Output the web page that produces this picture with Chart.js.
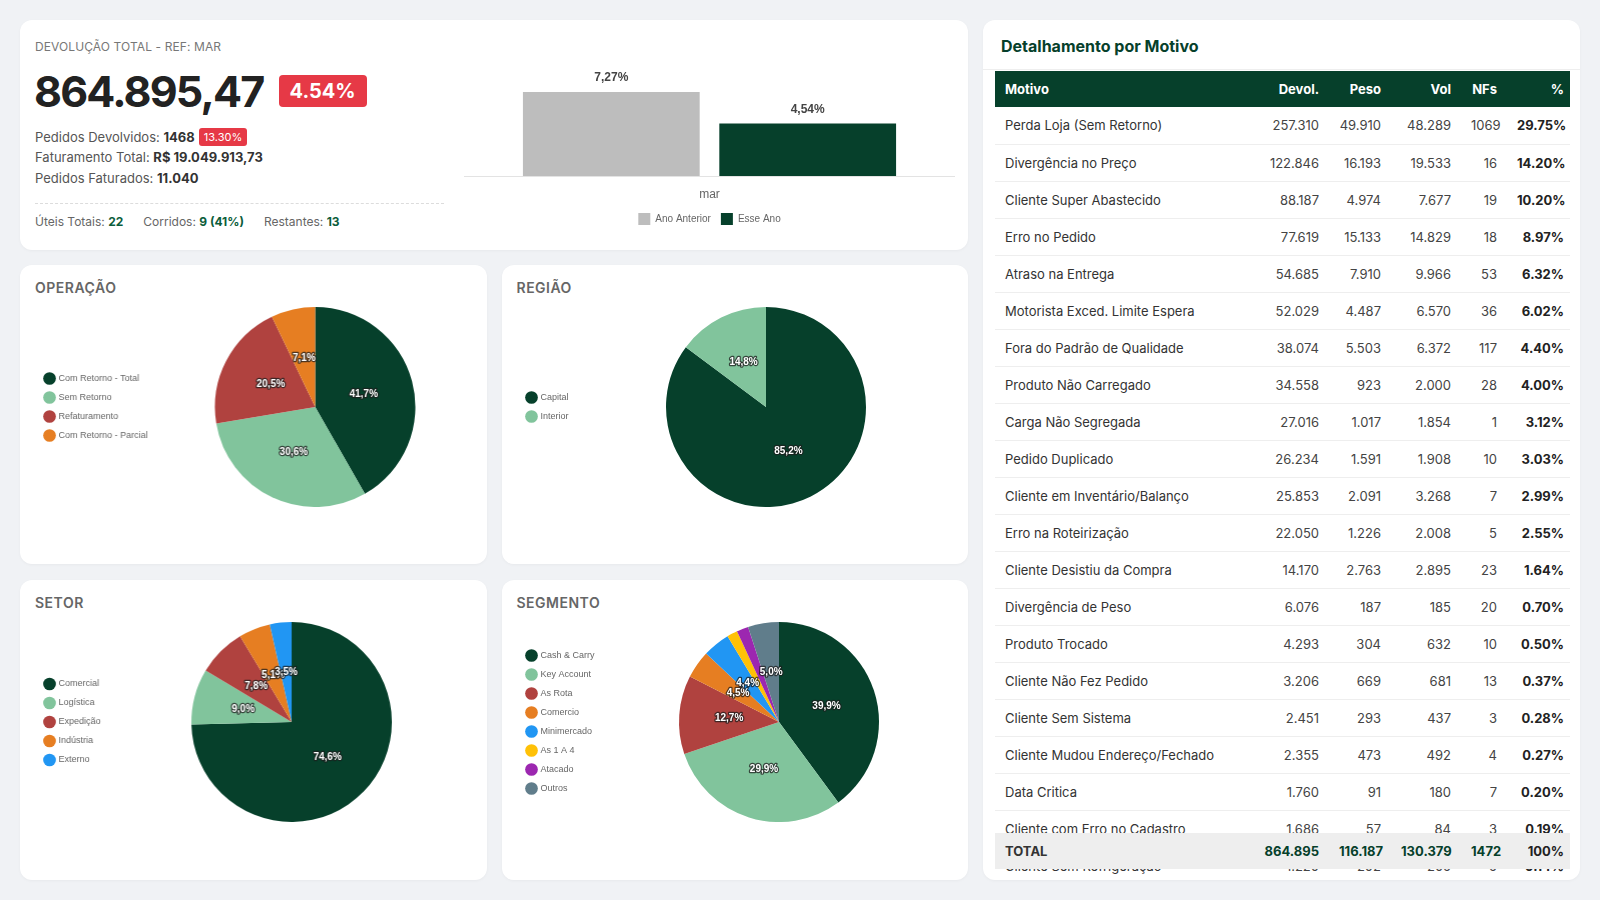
<!DOCTYPE html>
<html lang="pt-BR">
<head>
<meta charset="utf-8">
<title>Devolução - Dashboard</title>
<script src="https://cdn.jsdelivr.net/npm/chart.js@4.4.1/dist/chart.umd.min.js"></script>
<style>
  * { box-sizing: border-box; margin: 0; padding: 0; }
  html, body { width: 1600px; height: 900px; overflow: hidden; background: #f0f2f5; font-family: Inter, 'Noto Sans', sans-serif; }
  .card { position: absolute; background: #fff; border-radius: 12px; box-shadow: 0 1px 3px rgba(0,0,0,0.04); overflow: hidden; }

  #kpi { left: 20px; top: 20px; width: 948px; height: 230px; }
  .kpi-title { position: absolute; left: 15px; top: 20px; font-size: 12px; line-height: 14px; color: #777; letter-spacing: 0.1px; }
  .kpi-big { position: absolute; left: 14px; top: 46px; height: 50px; display: flex; align-items: center; }
  .kpi-big .num { font-size: 43px; font-weight: 700; color: #222; letter-spacing: -1.8px; }
  .kpi-big .badge { margin-left: 15px; background: #e63946; color: #fff; font-size: 20px; font-weight: 700; height: 32px; line-height: 32px; padding: 0 11px; border-radius: 4px; }
  .kpi-lines { position: absolute; left: 15px; top: 106.5px; font-size: 13px; line-height: 20.5px; color: #555; }
  .kpi-lines b { color: #333; font-weight: 700; }
  .kpi-lines .mini { display: inline-block; background: #e63946; color: #fff; font-size: 11px; line-height: 18px; height: 18px; padding: 0 5px; border-radius: 3px; margin-left: 4px; vertical-align: 1px; }
  .kpi-sep { position: absolute; left: 15px; top: 183px; width: 409px; border-top: 1px dashed #dcdcdc; }
  .kpi-foot { position: absolute; left: 15px; top: 194px; font-size: 12px; line-height: 16px; color: #666; }
  .kpi-foot span { margin-right: 20px; }
  .kpi-foot b { color: #0b5d3b; font-weight: 700; }
  #barBox { position: absolute; left: 444px; top: 40px; width: 491px; height: 175px; }

  .pie-title { position: absolute; left: 15px; top: 14px; font-size: 14px; line-height: 18px; font-weight: 600; color: #666; letter-spacing: 0.5px; }
  .pie-box { position: absolute; left: 15px; top: 42px; right: 15px; height: 200px; }
  #opCard { left: 20px; top: 265px; width: 466.5px; height: 299px; }
  #regCard { left: 501.5px; top: 265px; width: 466.5px; height: 299px; }
  #setCard { left: 20px; top: 580px; width: 466.5px; height: 300px; }
  #segCard { left: 501.5px; top: 580px; width: 466.5px; height: 300px; }

  #tblCard { left: 983px; top: 20px; width: 597px; height: 860px; }
  .tbl-title { position: absolute; left: 0; top: 0; width: 100%; height: 50px; border-bottom: 1px solid #eee; padding: 16px 18px 0; font-size: 16px; line-height: 20px; font-weight: 700; color: #06402b; }
  .tbl-wrap { position: absolute; left: 12px; top: 51px; width: 575px; height: 805px; overflow: hidden; }
  table { width: 575px; border-collapse: collapse; table-layout: fixed; }
  th, td { padding: 0 10px; white-space: nowrap; text-align: right; }
  th:first-child, td:first-child { text-align: left; }
  th:last-child, td:last-child { padding-right: 6px; }
  thead th { background: #06402b; color: #fff; font-size: 13px; font-weight: 700; height: 36px; }
  tbody td { height: 37px; border-bottom: 1px solid #eee; font-size: 13px; color: #444; }
  tbody td:first-child { color: #333; }
  tbody td:last-child { font-weight: 700; color: #222; }
  .tbl-total { position: absolute; left: 12px; top: 813px; width: 575px; background: #eeeeee; }
  .tbl-total td { height: 36px; border: none; font-size: 13px; font-weight: 700; color: #06402b; }
</style>
</head>
<body>

<div class="card" id="kpi">
  <div class="kpi-title">DEVOLUÇÃO TOTAL - REF: MAR</div>
  <div class="kpi-big"><span class="num">864.895,47</span><span class="badge">4.54%</span></div>
  <div class="kpi-lines">
    <div>Pedidos Devolvidos: <b>1468</b><span class="mini">13.30%</span></div>
    <div>Faturamento Total: <b>R$ 19.049.913,73</b></div>
    <div>Pedidos Faturados: <b>11.040</b></div>
  </div>
  <div class="kpi-sep"></div>
  <div class="kpi-foot"><span>Úteis Totais: <b>22</b></span><span>Corridos: <b>9 (41%)</b></span><span>Restantes: <b>13</b></span></div>
  <div id="barBox"><canvas id="barChart"></canvas></div>
</div>

<div class="card" id="opCard"><div class="pie-title">OPERAÇÃO</div><div class="pie-box"><canvas id="opChart"></canvas></div></div>
<div class="card" id="regCard"><div class="pie-title">REGIÃO</div><div class="pie-box"><canvas id="regChart"></canvas></div></div>
<div class="card" id="setCard"><div class="pie-title">SETOR</div><div class="pie-box"><canvas id="setChart"></canvas></div></div>
<div class="card" id="segCard"><div class="pie-title">SEGMENTO</div><div class="pie-box"><canvas id="segChart"></canvas></div></div>

<div class="card" id="tblCard">
  <div class="tbl-title">Detalhamento por Motivo</div>
  <div class="tbl-wrap"><table id="motivoTable"></table></div>
  <table class="tbl-total" id="totalTable"></table>
</div>

<script>
// --- bar: devolução % ano anterior x esse ano
const barLabels = ['mar'];
const anoAnterior = [7.27];
const esseAno = [4.54];

// --- pies (% share)
const operacaoLabels = ['Com Retorno - Total', 'Sem Retorno', 'Refaturamento', 'Com Retorno - Parcial'];
const operacaoValues = [41.7, 30.6, 20.5, 7.1];

const regiaoLabels = ['Capital', 'Interior'];
const regiaoValues = [85.2, 14.8];

const setorLabels = ['Comercial', 'Logística', 'Expedição', 'Indústria', 'Externo'];
const setorValues = [74.6, 9.0, 7.8, 5.1, 3.5];

const segmentoLabels = ['Cash & Carry', 'Key Account', 'As Rota', 'Comercio', 'Minimercado', 'As 1 A 4', 'Atacado', 'Outros'];
const segmentoValues = [39.9, 29.9, 12.7, 4.5, 4.4, 1.7, 1.9, 5.0];

// --- table
const tableHeaders = ['Motivo', 'Devol.', 'Peso', 'Vol', 'NFs', '%'];
const motivos = [
  'Perda Loja (Sem Retorno)', 'Divergência no Preço', 'Cliente Super Abastecido', 'Erro no Pedido',
  'Atraso na Entrega', 'Motorista Exced. Limite Espera', 'Fora do Padrão de Qualidade', 'Produto Não Carregado',
  'Carga Não Segregada', 'Pedido Duplicado', 'Cliente em Inventário/Balanço', 'Erro na Roteirização',
  'Cliente Desistiu da Compra', 'Divergência de Peso', 'Produto Trocado', 'Cliente Não Fez Pedido',
  'Cliente Sem Sistema', 'Cliente Mudou Endereço/Fechado', 'Data Critica', 'Cliente com Erro no Cadastro',
  'Cliente Sem Refrigeração'
];
const devol = [257310, 122846, 88187, 77619, 54685, 52029, 38074, 34558, 27016, 26234, 25853, 22050, 14170, 6076, 4293, 3206, 2451, 2355, 1760, 1686, 1220];
const peso  = [49910, 16193, 4974, 15133, 7910, 4487, 5503, 923, 1017, 1591, 2091, 1226, 2763, 187, 304, 669, 293, 473, 91, 57, 202];
const vol   = [48289, 19533, 7677, 14829, 9966, 6570, 6372, 2000, 1854, 1908, 3268, 2008, 2895, 185, 632, 681, 437, 492, 180, 84, 205];
const nfs   = [1069, 16, 19, 18, 53, 36, 117, 28, 1, 10, 7, 5, 23, 20, 10, 13, 3, 4, 7, 3, 5];
const pct   = [29.75, 14.20, 10.20, 8.97, 6.32, 6.02, 4.40, 4.00, 3.12, 3.03, 2.99, 2.55, 1.64, 0.70, 0.50, 0.37, 0.28, 0.27, 0.20, 0.19, 0.14];
const totais = ['TOTAL', '864.895', '116.187', '130.379', '1472', '100%'];

const colWidths = [259, 75, 62, 70, 46, 63];

const GREEN = '#06402b';
const pieColors = ['#06402b', '#81c49c', '#b0423f', '#e67e22', '#2196f3', '#ffc107', '#9c27b0', '#607d8b'];

function milhar(n) {
  return String(n).replace(/\B(?=(\d{3})+(?!\d))/g, '.');
}

// build table
function buildTable() {
  const t = document.getElementById('motivoTable');
  const cols = '<colgroup>' + colWidths.map(w => '<col style="width:' + w + 'px">').join('') + '</colgroup>';
  let html = cols + '<thead><tr>' + tableHeaders.map(h => '<th>' + h + '</th>').join('') + '</tr></thead><tbody>';
  motivos.forEach((m, i) => {
    html += '<tr><td>' + m + '</td><td>' + milhar(devol[i]) + '</td><td>' + milhar(peso[i]) + '</td><td>' +
      milhar(vol[i]) + '</td><td>' + nfs[i] + '</td><td>' + pct[i].toFixed(2) + '%</td></tr>';
  });
  html += '</tbody>';
  t.innerHTML = html;

  const tt = document.getElementById('totalTable');
  tt.innerHTML = cols + '<tr>' + totais.map(v => '<td>' + v + '</td>').join('') + '</tr>';
}

// labels drawn on bars / slices
const valueLabels = {
  id: 'valueLabels',
  afterDatasetsDraw(chart) {
    const ctx = chart.ctx;
    const isPie = chart.config.type === 'pie';
    chart.data.datasets.forEach((ds, di) => {
      const meta = chart.getDatasetMeta(di);
      meta.data.forEach((el, i) => {
        const v = ds.data[i];
        ctx.save();
        ctx.textAlign = 'center';
        ctx.textBaseline = 'middle';
        if (isPie) {
          if (v < 2) { ctx.restore(); return; }
          const p = el.tooltipPosition();
          const txt = v.toFixed(1).replace('.', ',') + '%';
          ctx.font = 'bold 10px "Liberation Sans", Arial, sans-serif';
          ctx.lineJoin = 'round';
          ctx.lineWidth = 2.5;
          ctx.strokeStyle = 'rgba(30,30,30,0.75)';
          ctx.strokeText(txt, p.x, p.y);
          ctx.fillStyle = '#fff';
          ctx.fillText(txt, p.x, p.y);
        } else {
          const txt = v.toFixed(2).replace('.', ',') + '%';
          ctx.font = 'bold 12px "Liberation Sans", Arial, sans-serif';
          ctx.fillStyle = '#444';
          ctx.fillText(txt, el.x, el.y - 14);
        }
        ctx.restore();
      });
    });
  }
};

function initBarChart() {
  const ctx = document.getElementById('barChart');
  return new Chart(ctx, {
    type: 'bar',
    data: {
      labels: barLabels,
      datasets: [
        { label: 'Ano Anterior', data: anoAnterior, backgroundColor: '#bdbdbd', borderWidth: 0 },
        { label: 'Esse Ano', data: esseAno, backgroundColor: GREEN, borderWidth: 0 }
      ]
    },
    options: {
      responsive: true,
      maintainAspectRatio: false,
      animation: false,
      layout: { padding: { top: 12, left: 0, right: 0, bottom: 0 } },
      plugins: {
        legend: {
          position: 'bottom',
          labels: { boxWidth: 12, boxHeight: 12, padding: 10, color: '#666', font: { family: '"Liberation Sans", Arial, sans-serif', size: 10 } }
        },
        tooltip: { enabled: false }
      },
      scales: {
        x: {
          grid: { display: false, drawTicks: false },
          border: { display: true, color: '#e3e3e3', width: 1 },
          ticks: { padding: 11, color: '#666', font: { family: '"Liberation Sans", Arial, sans-serif', size: 12 } },
          afterFit: function(scale) { scale.height = 27; }
        },
        y: { display: false, min: 0, max: 9 }
      }
    },
    plugins: [valueLabels]
  });
}

function initPie(id, labels, values) {
  const ctx = document.getElementById(id);
  return new Chart(ctx, {
    type: 'pie',
    data: {
      labels: labels,
      datasets: [{
        data: values,
        backgroundColor: pieColors.slice(0, values.length),
        borderWidth: 0,
        hoverOffset: 0
      }]
    },
    options: {
      responsive: true,
      maintainAspectRatio: false,
      animation: false,
      layout: { padding: 0 },
      plugins: {
        legend: {
          position: 'left',
          labels: {
            usePointStyle: true,
            pointStyle: 'circle',
            padding: 10,
            color: '#666',
            font: { family: '"Liberation Sans", Arial, sans-serif', size: 9 }
          }
        },
        tooltip: { enabled: false }
      }
    },
    plugins: [valueLabels]
  });
}

buildTable();
initBarChart();
initPie('opChart', operacaoLabels, operacaoValues);
initPie('regChart', regiaoLabels, regiaoValues);
initPie('setChart', setorLabels, setorValues);
initPie('segChart', segmentoLabels, segmentoValues);
</script>
</body>
</html>
